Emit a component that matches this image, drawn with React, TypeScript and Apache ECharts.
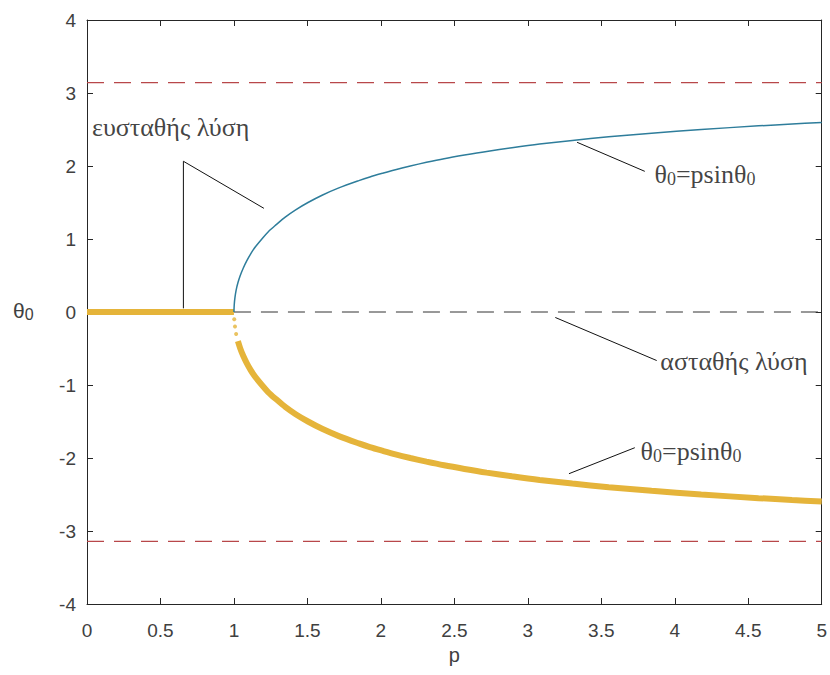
import React, { useEffect, useRef } from "react";
import * as echarts from "echarts";

// Bifurcation branch (p, θ0)
const branchP = [1, 1.002, 1.007, 1.015, 1.027, 1.043, 1.063, 1.087, 1.115, 1.131, 1.149, 1.19, 1.234, 1.29, 1.349, 1.42, 1.504, 1.6, 1.714, 1.85, 1.925, 2.01, 2.099, 2.2, 2.31, 2.43, 2.569, 2.72, 2.892, 3.08, 3.303, 3.55, 3.842, 4.18, 4.57, 4.798, 5];
const upperTheta = [0, 0.1, 0.2, 0.3, 0.4, 0.5, 0.6, 0.7, 0.8, 0.85, 0.9, 1.0, 1.1, 1.2, 1.3, 1.4, 1.5, 1.6, 1.7, 1.8, 1.85, 1.9, 1.95, 2.0, 2.05, 2.1, 2.15, 2.2, 2.25, 2.3, 2.35, 2.4, 2.45, 2.5, 2.55, 2.575, 2.596];
const lowerTheta = [0, -0.1, -0.2, -0.3, -0.4, -0.5, -0.6, -0.7, -0.8, -0.85, -0.9, -1.0, -1.1, -1.2, -1.3, -1.4, -1.5, -1.6, -1.7, -1.8, -1.85, -1.9, -1.95, -2.0, -2.05, -2.1, -2.15, -2.2, -2.25, -2.3, -2.35, -2.4, -2.45, -2.5, -2.55, -2.575, -2.596];
// stable zero solution for p < 1
const stableP = [0, 1];
const stableTheta = [0, 0];
// unstable zero solution for p > 1
const unstableP = [1, 5];
const unstableTheta = [0, 0];
// ±π limits
const piLevels = [3.1416, -3.1416];
const piRange = [0, 5];

const xTicks = { min: 0, max: 5, interval: 0.5 };
const yTicks = { min: -4, max: 4, interval: 1 };

// annotation leader lines (data coords)
const leaderStable = [[0.656, 0.05], [0.656, 2.065], [1.204, 1.42]];
const leaderUpper = [[3.335, 2.325], [3.796, 1.927]];
const leaderUnstable = [[3.187, -0.075], [3.877, -0.665]];
const leaderLower = [[3.28, -2.215], [3.728, -1.859]];

// annotation texts: [p, θ, text]
const annotations: [number, number, string][] = [
  [0.034, 2.53, "ευσταθής λύση"],
  [3.862, 1.886, "{g|θ}{s|0}{g|=psinθ}{s|0}"],
  [3.902, -0.679, "ασταθής λύση"],
  [3.767, -1.914, "{g|θ}{s|0}{g|=psinθ}{s|0}"],
];

const YELLOW = "#E5B43A";
const BLUE = "#2E7D9B";
const RED = "#B8474A";
const AX = "#262626";
const LBL = "#404040";

export default function App() {
  const ref = useRef<HTMLDivElement>(null);
  useEffect(() => {
    if (!ref.current) return;
    const chart = echarts.init(ref.current, null, { renderer: "svg" });
    const sans = "Liberation Sans";
    const serif = "Liberation Serif";
    const axisCommon = {
      axisLine: { show: true, onZero: false, lineStyle: { color: AX, width: 1 } },
      axisTick: { show: true, inside: true, length: 6, lineStyle: { color: AX } },
      splitLine: { show: false },
    };
    const leaderSeries = [leaderStable, leaderUpper, leaderUnstable, leaderLower].map((d) => ({
      type: "line",
      data: d,
      symbol: "none",
      lineStyle: { color: "#111", width: 1 },
      z: 5,
      silent: true,
    }));
    const option: any = {
      animation: false,
      backgroundColor: "#fff",
      grid: { left: 87, right: 5, top: 20, bottom: 71 },
      xAxis: [
        {
          type: "value",
          ...xTicks,
          position: "bottom",
          ...axisCommon,
          axisLabel: { color: LBL, fontSize: 19, fontFamily: sans, margin: 17 },
          name: "p",
          nameLocation: "middle",
          nameGap: 41,
          nameTextStyle: { color: LBL, fontSize: 20, fontFamily: sans },
        },
        { type: "value", ...xTicks, position: "top", ...axisCommon, axisLabel: { show: false } },
      ],
      yAxis: [
        {
          type: "value",
          ...yTicks,
          position: "left",
          ...axisCommon,
          axisLabel: { color: LBL, fontSize: 19, fontFamily: sans, margin: 11 },
        },
        { type: "value", ...yTicks, position: "right", ...axisCommon, axisLabel: { show: false } },
      ],
      graphic: [
        {
          type: "text",
          left: 13,
          top: 300,
          style: {
            text: "{g|θ}{s|0}",
            rich: {
              g: { fontSize: 21, fontFamily: sans, fill: LBL },
              s: { fontSize: 16, fontFamily: sans, fill: LBL, padding: [7, 0, 0, 0] },
            },
          },
        },
      ],
      series: [
        ...piLevels.map((v) => ({
          type: "line",
          data: piRange.map((p) => [p, v]),
          symbol: "none",
          lineStyle: { color: RED, width: 1.3, type: [17, 10] },
          z: 2,
        })),
        {
          type: "line",
          data: unstableP.map((p, i) => [p, unstableTheta[i]]),
          symbol: "none",
          lineStyle: { color: "#333", width: 1, type: [17, 10] },
          z: 2,
        },
        {
          type: "line",
          data: stableP.map((p, i) => [p, stableTheta[i]]),
          symbol: "none",
          lineStyle: { color: YELLOW, width: 6 },
          z: 3,
        },
        {
          type: "line",
          data: branchP.map((p, i) => [p, lowerTheta[i]]).slice(4),
          symbol: "none",
          smooth: 0.3,
          lineStyle: { color: YELLOW, width: 6 },
          z: 3,
        },
        {
          type: "scatter",
          data: branchP.map((p, i) => [p, lowerTheta[i]]).slice(1, 4),
          symbolSize: 4,
          itemStyle: { color: YELLOW },
          z: 3,
        },
        {
          type: "line",
          data: branchP.map((p, i) => [p, upperTheta[i]]),
          symbol: "none",
          smooth: 0.3,
          lineStyle: { color: BLUE, width: 1.5 },
          z: 4,
        },
        ...leaderSeries,
        {
          type: "scatter",
          data: annotations.map((a) => ({ value: [a[0], a[1]], label: { formatter: a[2] } })),
          symbolSize: 0,
          silent: true,
          z: 6,
          label: {
            show: true,
            position: "right",
            distance: 0,
            fontFamily: serif,
            fontSize: 26,
            color: "#111",
            rich: {
              g: { fontSize: 26, fontFamily: serif, color: "#111" },
              s: { fontSize: 18, fontFamily: serif, color: "#111", padding: [9, 0, 0, 0] },
            },
          },
        },
      ],
    };
    chart.setOption(option);
    return () => chart.dispose();
  }, []);
  return (
    <div
      ref={ref}
      style={{ position: "fixed", left: 0, top: 0, width: 830, height: 675, background: "#fff" }}
    />
  );
}
